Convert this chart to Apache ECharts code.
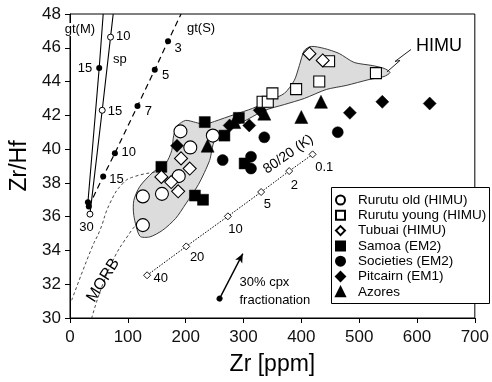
<!DOCTYPE html>
<html><head><meta charset="utf-8">
<script src="https://cdn.jsdelivr.net/npm/echarts@6/dist/echarts.min.js"></script>
<style>html,body{margin:0;padding:0;background:#fff}#c{width:492px;height:382px}</style>
</head><body><div id="c"></div>
<script>
// ---- data ----
const rurutuOld   = [[126,37.2],[126,35.5],[191,41.05],[208,40.1],[188,38.4],[159,37.35],[247,40.8]];
const rurutuYoung = [[333,42.8],[342,42.8],[350,43.3],[391,43.55],[431,44.0],[448,45.2],[529,44.5]];
const tubuai      = [[192,39.45],[207,38.85],[158,38.35],[175,38.05],[187,37.5],[414,45.65],[437,45.25]];
const samoa       = [[158,38.95],[216,37.25],[230,37.0],[233,41.6],[267,40.8],[292,41.85],[302,39.15]];
const societies   = [[264,39.35],[313,39.55],[313,38.85],[336,40.7],[463,41.0]];
const pitcairn    = [[185,40.2],[276,41.4],[310,41.4],[328,42.3],[484,42.15],[540,42.8],[622,42.7]];
const azores      = [[238,40.2],[284,41.6],[336,42.1],[400,41.9],[434,42.8]];

// melting curves
const gtM  = [[31.0,36.85],[50.5,44.8],[57.4,48]];
const gtMMarked = [true,true,false];
const spCurve = [[34.5,36.15],[55.7,42.3],[70.1,46.63],[74.7,48]];
const spMarked = [true,true,true,false];
const gtS  = [[32.5,36.6],[57.4,38.38],[77.6,39.76],[116.7,42.55],[146.6,44.7],[169.5,46.39],[192,48]];
const gtSMarked = [true,true,true,true,true,true,false];
const k8020 = [[133.3,32.53],[201,34.24],[273,36.02],[330.5,37.46],[379,38.7],[419.5,39.69]];

// MORB field boundaries
const morbLeft  = [[2.9,31.05],[37.4,34.13],[51.7,35.19],[69,36.79],[91.4,37.97],[112,38.38],[149.5,38.64]];
const morbRight = [[37.4,29.98],[69,33.02],[106.4,35.19],[120.7,35.66]];

// HIMU field outline
const himuField = [[120.7,34.85],[110.3,36.08],[110.3,36.96],[120.7,37.79],[143.1,38.62],[165.5,39.15],[175.9,39.92],[179.3,40.81],[186.2,41.4],[200,41.7],[217.2,41.58],[232.8,41.46],[250,41.64],[284.5,42.05],[315.5,42.41],[344.8,42.88],[370.7,43.3],[387.9,44.07],[396.6,44.95],[405.2,45.84],[417.2,46.08],[439.7,45.96],[465.5,45.66],[491.4,45.13],[522.4,44.95],[543.1,44.78],[553.4,44.54],[543.1,44.3],[517.2,44.12],[477.6,43.77],[443.1,43.53],[405.2,43.0],[370.7,42.64],[336.2,42.29],[310.3,41.82],[272.4,41.11],[250,40.51],[241.4,39.33],[222,37.9],[200,36.75],[182.8,35.9],[160.3,35.2],[137.9,34.8]];
const himuZigzag = [[548,44.57],[570.7,45.25],[562,45.19],[589.7,45.9]];

// cpx fractionation vector
const cpxStart = [258.6,31.15];
const cpxEnd   = [298.8,33.81];

// annotations: [x, y, text, rotate(deg ccw), fontSize, align]
const annotations = [
  [17.2,47.08,'gt(M)',0,13,'center'],
  [226.7,47.14,'gt(S)',0,13,'center'],
  [92.2,46.7,'10',0,13,'center'],
  [86.2,45.3,'sp',0,13,'center'],
  [25.9,44.78,'15',0,13,'center'],
  [77.6,42.26,'15',0,13,'center'],
  [187,45.99,'3',0,13,'center'],
  [165.5,44.39,'5',0,13,'center'],
  [135.3,42.26,'7',0,13,'center'],
  [101.7,39.78,'10',0,13,'center'],
  [80.2,38.18,'15',0,13,'center'],
  [28.4,35.34,'30',0,13,'center'],
  [57.4,32.23,'MORB',58,16,'center'],
  [637.9,46.09,'HIMU',0,18,'center'],
  [377.6,39.69,'80/20 (K)',35,14,'center'],
  [439.7,38.94,'0.1',0,13,'center'],
  [387.9,37.87,'2',0,13,'center'],
  [341.4,36.73,'5',0,13,'center'],
  [286.2,35.27,'10',0,13,'center'],
  [219.8,33.61,'20',0,13,'center'],
  [156.9,32.33,'40',0,13,'center'],
  [293.1,32.11,'30% cpx',0,13,'left'],
  [293.1,31.05,'fractionation',0,13,'left']
];

const FONT = '"Liberation Sans", Arial, sans-serif';
const chart = echarts.init(document.getElementById('c'), null, {renderer:'canvas'});

function markedData(pts, marks){
  return pts.map((p,i)=>({value:p, symbol: marks[i] ? undefined : 'none'}));
}
function ptSeries(name, data, symbol, size, filled){
  return {
    name, type:'scatter', data, symbol, symbolSize:size, z:5,
    itemStyle: filled ? {color:'#000', borderColor:'#000', borderWidth:0.5, opacity:1}
                      : {color:'#fff', borderColor:'#000', borderWidth:1.1, opacity:1}
  };
}

const option = {
  animation:false,
  backgroundColor:'#fff',
  textStyle:{fontFamily:FONT},
  grid:{left:70, right:16, top:14, bottom:64, show:true, borderColor:'#000', borderWidth:1, backgroundColor:'transparent'},
  xAxis:{
    type:'value', min:0, max:700, interval:100,
    name:'Zr [ppm]', nameLocation:'middle', nameGap:35,
    nameTextStyle:{fontSize:23, color:'#000', fontFamily:FONT},
    axisLine:{lineStyle:{color:'#000', width:1}},
    axisTick:{show:true, length:5, lineStyle:{color:'#000'}},
    axisLabel:{fontSize:17, color:'#111', margin:11, fontFamily:FONT},
    splitLine:{show:false}
  },
  yAxis:{
    type:'value', min:30, max:48, interval:2,
    name:'Zr/Hf', nameLocation:'middle', nameGap:36, nameRotate:90,
    nameTextStyle:{fontSize:23, color:'#000', fontFamily:FONT},
    axisLine:{lineStyle:{color:'#000', width:1}},
    axisTick:{show:true, length:5, lineStyle:{color:'#000'}},
    axisLabel:{fontSize:17, color:'#111', margin:9, fontFamily:FONT},
    splitLine:{show:false}
  },
  legend:{
    orient:'vertical', left:335, top:193, z:200,
    itemWidth:9, itemHeight:9, itemGap:1.3,
    data:['Rurutu old (HIMU)','Rurutu young (HIMU)','Tubuai (HIMU)','Samoa (EM2)','Societies (EM2)','Pitcairn (EM1)','Azores'],
    textStyle:{fontSize:13.5, color:'#000', fontFamily:FONT, lineHeight:13, padding:[0,0,0,8]},
    padding:0, selectedMode:false
  },
  graphic:[
    {type:'rect', left:331, top:187, z:100, shape:{width:158, height:116}, style:{fill:'#fff', stroke:'#000', lineWidth:1}}
  ],
  series:[
    {
      type:'custom', name:'HIMU field', silent:true, z:1,
      encode:{x:0, y:1},
      data: himuField,
      renderItem:(params, api)=>{
        if (params.dataIndex !== 0) return;
        const pts = himuField.map(p=>api.coord(p));
        return {type:'polygon', shape:{points:pts, smooth:0.25}, style:{fill:'#dcdcdc', stroke:'#3a3a3a', lineWidth:1}};
      }
    },
    {type:'line', data:himuZigzag, symbol:'none', z:2, lineStyle:{color:'#222', width:1}, silent:true},
    {type:'line', data:morbLeft, symbol:'none', smooth:true, z:2, lineStyle:{color:'#333', width:0.9, type:[3,2.5]}, silent:true},
    {type:'line', data:morbRight, symbol:'none', smooth:true, z:2, lineStyle:{color:'#333', width:0.9, type:[3,2.5]}, silent:true},
    {type:'line', data:markedData(gtM,gtMMarked), symbol:'circle', symbolSize:6, z:3,
      itemStyle:{color:'#000'}, lineStyle:{color:'#000', width:1.1}, silent:true},
    {type:'line', data:markedData(spCurve,spMarked), symbol:'circle', symbolSize:6, z:3,
      itemStyle:{color:'#fff', borderColor:'#000', borderWidth:1}, lineStyle:{color:'#000', width:1.1}, silent:true},
    {type:'line', data:markedData(gtS,gtSMarked), symbol:'circle', symbolSize:6, z:3,
      itemStyle:{color:'#000'}, lineStyle:{color:'#000', width:1.2, type:[6,4]}, silent:true},
    {type:'line', data:k8020, symbol:'diamond', symbolSize:7, z:3,
      itemStyle:{color:'#fff', borderColor:'#000', borderWidth:0.9}, lineStyle:{color:'#000', width:1, type:[1.5,1.5]}, silent:true},
    {type:'line', data:[], symbol:'none', silent:true,
      markLine:{silent:true, symbol:['circle','arrow'], symbolSize:[6,9],
        label:{show:false}, lineStyle:{color:'#000', width:1.4, type:'solid', opacity:1},
        data:[[{coord:cpxStart},{coord:cpxEnd}]]}},
    ptSeries('Samoa (EM2)', samoa, 'rect', 11, true),
    ptSeries('Societies (EM2)', societies, 'circle', 11, true),
    ptSeries('Pitcairn (EM1)', pitcairn, 'diamond', 13, true),
    ptSeries('Azores', azores, 'triangle', 13, true),
    ptSeries('Rurutu old (HIMU)', rurutuOld, 'circle', 13, false),
    ptSeries('Rurutu young (HIMU)', rurutuYoung, 'rect', 11, false),
    ptSeries('Tubuai (HIMU)', tubuai, 'diamond', 13, false),
    {
      type:'custom', name:'annotations', silent:true, z:6,
      encode:{x:0, y:1},
      data: annotations.map(a=>[a[0],a[1]]),
      renderItem:(params, api)=>{
        const a = annotations[params.dataIndex];
        const p = api.coord([a[0], a[1]]);
        return {
          type:'text', x:p[0], y:p[1], rotation: a[3]*Math.PI/180,
          style:{text:a[2], fill:'#000', font: a[4]+'px '+FONT, align:a[5], verticalAlign:'middle',
            backgroundColor: a[2]==='gt(M)' ? '#fff' : null}
        };
      }
    }
  ]
};
chart.setOption(option);
</script>
</body></html>
